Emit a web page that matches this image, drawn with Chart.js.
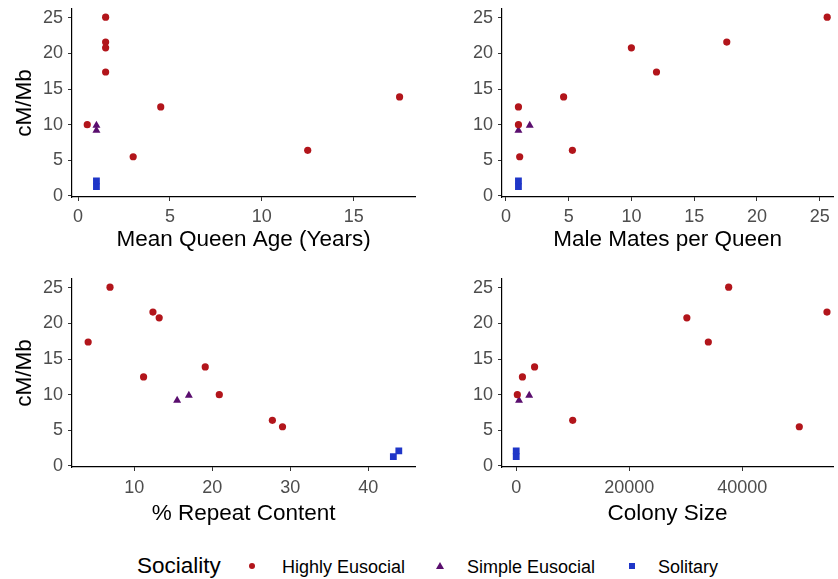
<!DOCTYPE html>
<html>
<head>
<meta charset="utf-8">
<script src="https://cdn.jsdelivr.net/npm/chart.js@4"></script>
<style>
  body { margin: 0; background: #fff; overflow: hidden; font-family: "Liberation Sans", Arial, sans-serif; }
  #wrap { position: relative; width: 838px; height: 579px; }
  canvas { position: absolute; }
  .lg { position: absolute; white-space: nowrap; line-height: 26px; color: #000; }
  .mk { position: absolute; }
</style>
</head>
<body>
<div id="wrap">
  <canvas id="p1" width="420" height="260" style="left:0;top:0"></canvas>
  <canvas id="p2" width="418" height="260" style="left:420px;top:0"></canvas>
  <canvas id="p3" width="420" height="260" style="left:0;top:270px"></canvas>
  <canvas id="p4" width="418" height="260" style="left:420px;top:270px"></canvas>

  <div class="lg" style="left:137px;top:553px;font-size:22.5px">Sociality</div>
  <div class="mk" style="left:249px;top:563px;width:6px;height:6px;border-radius:50%;background:#B2151B"></div>
  <div class="lg" style="left:282px;top:554px;font-size:18px">Highly Eusocial</div>
  <div class="mk" style="left:436px;top:562px;width:0;height:0;border-left:4px solid transparent;border-right:4px solid transparent;border-bottom:7px solid #5A0E6E"></div>
  <div class="lg" style="left:467px;top:554px;font-size:18px">Simple Eusocial</div>
  <div class="mk" style="left:629px;top:563px;width:6px;height:6px;background:#1F36C8"></div>
  <div class="lg" style="left:658px;top:554px;font-size:18px">Solitary</div>
</div>

<script>
// colours
const COLOR_HIGHLY = "#B2151B";
const COLOR_SIMPLE = "#5A0E6E";
const COLOR_SOLITARY = "#1F36C8";
const FONT = "'Liberation Sans', Arial, sans-serif";

// recombination rate (cM/Mb), same species order in every panel
const cmHighly = [25.1, 21.6, 20.8, 17.4, 13.9, 12.5, 10.0, 6.4, 5.5];
const cmSimple = [9.2, 9.9];
const cmSolitary = [1.3, 2.1];

// predictors
const queenAgeHighly = [1.5, 1.5, 1.5, 1.5, 17.5, 4.5, 0.5, 12.5, 3];
const queenAgeSimple = [1, 1];
const queenAgeSolitary = [1, 1];

const matesHighly = [25.6, 17.6, 10, 12, 4.6, 1, 1, 5.3, 1.1];
const matesSimple = [1, 1.9];
const matesSolitary = [1, 1];

const repeatHighly = [6.9, 12.4, 13.2, 4.1, 19.1, 11.2, 20.9, 27.7, 29.0];
const repeatSimple = [15.5, 17.0];
const repeatSolitary = [43.2, 43.9];

const colonyHighly = [37600, 55000, 30200, 34000, 3250, 1100, 200, 10000, 50100];
const colonySimple = [500, 2300];
const colonySolitary = [0, 0];

// tick labels
const yTicks = [0, 5, 10, 15, 20, 25];
const queenAgeTicks = [0, 5, 10, 15];
const matesTicks = [0, 5, 10, 15, 20, 25];
const repeatTicks = [10, 20, 30, 40];
const colonyTicks = [0, 20000, 40000];

function pts(xs, ys) {
  return xs.map((x, i) => ({ x: x, y: ys[i] }));
}

// stop chart.js from shrinking the plot area for overhanging tick labels
function noPad(scale) {
  scale.paddingTop = 0;
  scale.paddingBottom = 0;
  scale.paddingLeft = 0;
  scale.paddingRight = 0;
}

function makePanel(id, xs, xTitle, xTicks, xMin, xMax, opts) {
  const datasets = [
    { label: "Highly Eusocial", data: pts(xs[0], cmHighly), pointStyle: "circle", pointRadius: 3.6,
      backgroundColor: COLOR_HIGHLY, borderColor: COLOR_HIGHLY, borderWidth: 0 },
    { label: "Simple Eusocial", data: pts(xs[1], cmSimple), pointStyle: "triangle", pointRadius: 4.6,
      backgroundColor: COLOR_SIMPLE, borderColor: COLOR_SIMPLE, borderWidth: 0 },
    { label: "Solitary", data: pts(xs[2], cmSolitary), pointStyle: "rect", pointRadius: 4.8,
      backgroundColor: COLOR_SOLITARY, borderColor: COLOR_SOLITARY, borderWidth: 0 },
  ];
  new Chart(document.getElementById(id).getContext("2d"), {
    type: "scatter",
    data: { datasets: datasets },
    options: {
      responsive: false,
      animation: false,
      layout: { padding: { top: 9, right: opts.padRight, left: 0, bottom: 0 } },
      plugins: { legend: { display: false }, tooltip: { enabled: false } },
      scales: {
        x: {
          type: "linear",
          min: xMin,
          max: xMax,
          afterFit: (scale) => { scale.height = 63; noPad(scale); },
          afterBuildTicks: (scale) => { scale.ticks = xTicks.map(v => ({ value: v })); },
          border: { display: true, color: "#000", width: 1.2 },
          grid: { display: true, drawOnChartArea: false, drawTicks: true, tickLength: 4, tickColor: "#333" },
          ticks: {
            color: "#4D4D4D", padding: opts.xTickPad, maxRotation: 0, autoSkip: false,
            font: { family: FONT, size: 18 },
            callback: (v) => String(v),
          },
          title: {
            display: true, text: xTitle, color: "#000",
            font: { family: FONT, size: 22.5 },
            padding: { top: 0, bottom: opts.xTitlePad },
          },
        },
        y: {
          min: -0.15,
          max: 26.25,
          afterFit: (scale) => { scale.width = opts.yWidth; noPad(scale); },
          afterBuildTicks: (scale) => { scale.ticks = yTicks.map(v => ({ value: v })); },
          border: { display: true, color: "#000", width: 1.2 },
          grid: { display: true, drawOnChartArea: false, drawTicks: true, tickLength: 4, tickColor: "#333" },
          ticks: {
            color: "#4D4D4D", padding: 5,
            font: { family: FONT, size: 18 },
          },
          title: {
            display: opts.yTitle, text: "cM/Mb", color: "#000",
            font: { family: FONT, size: 22.5 },
            padding: { top: 11, bottom: 0 },
          },
        },
      },
    },
  });
}

makePanel("p1", [queenAgeHighly, queenAgeSimple, queenAgeSolitary], "Mean Queen Age (Years)",
  queenAgeTicks, -0.33, 18.35, { padRight: 1, yWidth: 72, yTitle: true, xTickPad: 5, xTitlePad: 7 });
makePanel("p2", [matesHighly, matesSimple, matesSolitary], "Male Mates per Queen",
  matesTicks, -0.31, 26.08, { padRight: 0, yWidth: 82, yTitle: false, xTickPad: 5, xTitlePad: 7 });
makePanel("p3", [repeatHighly, repeatSimple, repeatSolitary], "% Repeat Content",
  repeatTicks, 2.03, 46, { padRight: 1, yWidth: 72, yTitle: true, xTickPad: 6, xTitlePad: 3 });
makePanel("p4", [colonyHighly, colonySimple, colonySolitary], "Colony Size",
  colonyTicks, -2515, 56100, { padRight: 0, yWidth: 82, yTitle: false, xTickPad: 6, xTitlePad: 3 });
</script>
</body>
</html>
